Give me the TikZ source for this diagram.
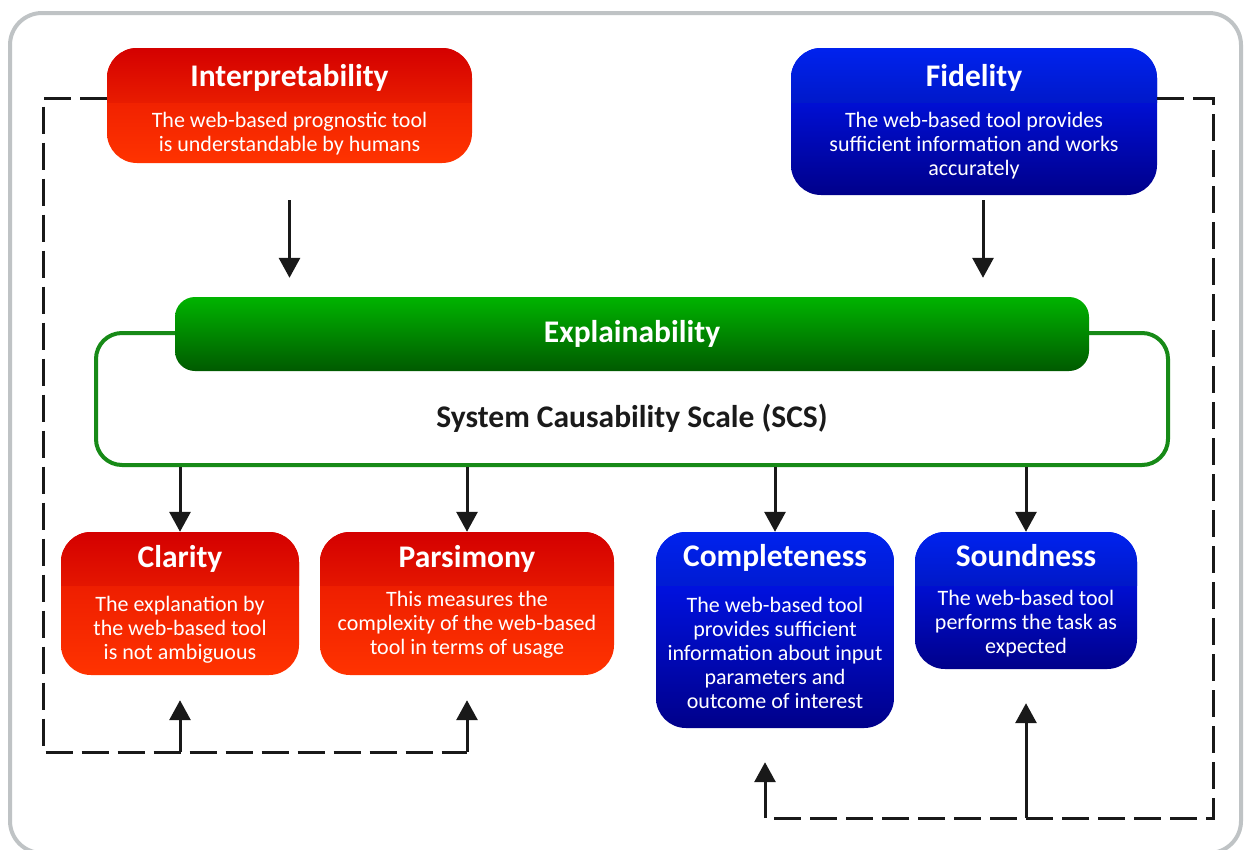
\documentclass[tikz,border=0pt]{standalone}
\usepackage{fontspec}
\setmainfont{Carlito}
\usetikzlibrary{arrows.meta}
\definecolor{redhdtop}{HTML}{D40000}
\definecolor{redhdbot}{HTML}{FF3A00}
\definecolor{redtop}{HTML}{E41200}
\definecolor{redbot}{HTML}{FF3300}
\definecolor{bluehdtop}{HTML}{0022EE}
\definecolor{bluehdbot}{HTML}{000A8C}
\definecolor{bluetop}{HTML}{0018FF}
\definecolor{bluebot}{HTML}{00008A}
\definecolor{greentop}{HTML}{00B400}
\definecolor{greenbot}{HTML}{005A00}
\definecolor{greenline}{HTML}{178A17}
\definecolor{framegray}{HTML}{BFC3C5}
\definecolor{darktext}{HTML}{1A1A1A}
\tikzset{
  card/.style={rectangle, rounded corners=30pt, inner sep=0pt},
  redcard/.style={card, top color=redtop, bottom color=redbot,
    path picture={\shade[sharp corners, top color=redhdtop, bottom color=redhdbot]
      (path picture bounding box.north west) rectangle
      ([yshift=-#1]path picture bounding box.north east);}},
  bluecard/.style={card, top color=bluetop, bottom color=bluebot,
    path picture={\shade[sharp corners, top color=bluehdtop, bottom color=bluehdbot]
      (path picture bounding box.north west) rectangle
      ([yshift=-#1]path picture bounding box.north east);}},
  ttl/.style={text=white, font=\bfseries\fontsize{31.5}{34}\selectfont, inner sep=0pt},
  txt/.style={text=white, align=center, font=\fontsize{22}{24}\selectfont, inner sep=0pt},
  arr/.style={line width=3pt, draw=black!90, -{Triangle[width=21pt,length=20pt]}},
  bus/.style={line width=3pt, draw=black!90, dash pattern=on 27pt off 9pt}
}
\begin{document}
\begin{tikzpicture}[x=1pt,y=-1pt]
\useasboundingbox (0,0) rectangle (1244,849);
\draw[framegray, line width=4pt, rounded corners=32pt, fill=white] (10,13) rectangle (1241,853);
% top boxes
\node[redcard=54pt, minimum width=365pt, minimum height=115pt] (interp) at (289.5,105.5) {};
\node[ttl, anchor=base] (interp-t) at (289.5,86) {Interpretability};
\node[txt] (interp-d) at (289.5,134) {The web-based prognostic tool\\is understandable by humans};
\node[bluecard=54pt, minimum width=366pt, minimum height=147pt] (fid) at (974,121.5) {};
\node[ttl, anchor=base] (fid-t) at (974,86) {Fidelity};
\node[txt] (fid-d) at (974,146) {The web-based tool provides\\sufficient information and works\\accurately};
% explainability
\node[rectangle, rounded corners=26pt, draw=greenline, line width=4pt, fill=white,
  minimum width=1072pt, minimum height=132pt] (scs) at (632,399) {};
\node[rectangle, rounded corners=20pt, top color=greentop, bottom color=greenbot,
  minimum width=914pt, minimum height=74pt] (explbar) at (632,334) {};
\node[ttl, anchor=base] (expl-t) at (632,342) {Explainability};
\node[ttl, text=darktext, anchor=base] (scs-t) at (632,427) {System Causability Scale (SCS)};
% bottom boxes
\node[redcard=53pt, minimum width=238pt, minimum height=143pt] (clar) at (180,603.5) {};
\node[ttl, anchor=base] (clar-t) at (180,567) {Clarity};
\node[txt] (clar-d) at (180,629.5) {The explanation by\\the web-based tool\\is not ambiguous};
\node[redcard=53pt, minimum width=294pt, minimum height=143pt] (pars) at (467,603.5) {};
\node[ttl, anchor=base] (pars-t) at (467,567) {Parsimony};
\node[txt] (pars-d) at (467,624.5) {This measures the\\complexity of the web-based\\tool in terms of usage};
\node[bluecard=53pt, minimum width=238pt, minimum height=196pt] (comp) at (775,630) {};
\node[ttl, anchor=base] (comp-t) at (775,566) {Completeness};
\node[txt] (comp-d) at (775,653) {The web-based tool\\provides sufficient\\information about input\\parameters and\\outcome of interest};
\node[bluecard=53pt, minimum width=222pt, minimum height=137pt] (sound) at (1026,600.5) {};
\node[ttl, anchor=base] (sound-t) at (1026,566) {Soundness};
\node[txt] (sound-d) at (1026,623.5) {The web-based tool\\performs the task as\\expected};
% arrows
\draw[arr] ([yshift=-37pt]interp.south) -- ([yshift=19pt]interp.south |- explbar.north);
\draw[arr] ([xshift=9pt,yshift=-5pt]fid.south) -- ([xshift=9pt,yshift=19pt]fid.south |- explbar.north);
\draw[arr] (scs.south -| clar.north) -- (clar.north);
\draw[arr] (scs.south -| pars.north) -- (pars.north);
\draw[arr] (scs.south -| comp.north) -- (comp.north);
\draw[arr] (scs.south -| sound.north) -- (sound.north);
% feedback lines
\coordinate (lbus) at (43,752);
\coordinate (rbus) at (1213,818);
\coordinate (cin) at ([xshift=-10pt]comp.south);
\draw[bus] ([yshift=7pt]interp.west) -| (lbus) -- (lbus -| pars.south);
\draw[arr] (lbus -| clar.south) -- ([yshift=-25pt]clar.south);
\draw[arr] (lbus -| pars.south) -- ([yshift=-25pt]pars.south);
\draw[bus] ([yshift=23.5pt]fid.east) -| (rbus) -- (rbus -| cin);
\draw[arr] (rbus -| cin) -- ([yshift=-34pt]cin);
\draw[arr] (rbus -| sound.south) -- ([yshift=-34pt]sound.south);
\end{tikzpicture}
\end{document}
